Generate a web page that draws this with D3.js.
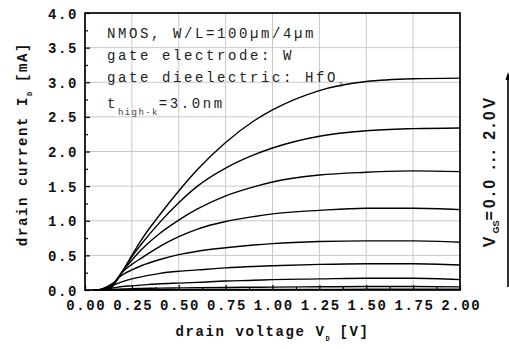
<!DOCTYPE html>
<html><head><meta charset="utf-8">
<script src="https://cdn.jsdelivr.net/npm/d3@7"></script>
<style>
html,body{margin:0;padding:0;background:#fff;}
svg{display:block;}
</style></head>
<body>
<svg id="chart" width="509" height="349"></svg>
<script>
// ---- data ----
const xTicks = [0, 0.25, 0.5, 0.75, 1.0, 1.25, 1.5, 1.75, 2.0];
const yTicks = [0, 0.5, 1.0, 1.5, 2.0, 2.5, 3.0, 3.5, 4.0];
const vdGrid = [0.15, 0.2, 0.25, 0.3, 0.4, 0.5, 0.6, 0.75, 0.9, 1.0, 1.25, 1.5, 1.75, 2.0];
const vgsValues = [2.0, 1.75, 1.5, 1.25, 1.0, 0.75, 0.5, 0.25, 0.0];
const vdOnset = [0.13, 0.12, 0.11, 0.10, 0.08, 0.07, 0.06, 0.05, 0.04];
const id_vgs200 = [0.06, 0.27, 0.50, 0.72, 1.09, 1.43, 1.74, 2.13, 2.44, 2.60, 2.88, 3.01, 3.05, 3.06];
const id_vgs175 = [0.07, 0.27, 0.48, 0.66, 0.98, 1.26, 1.50, 1.76, 1.95, 2.05, 2.22, 2.30, 2.33, 2.34];
const id_vgs150 = [0.08, 0.27, 0.43, 0.58, 0.82, 1.01, 1.17, 1.36, 1.49, 1.56, 1.66, 1.70, 1.72, 1.71];
const id_vgs125 = [0.09, 0.26, 0.37, 0.46, 0.63, 0.77, 0.88, 0.99, 1.06, 1.10, 1.15, 1.18, 1.18, 1.16];
const id_vgs100 = [0.10, 0.22, 0.29, 0.35, 0.44, 0.51, 0.56, 0.61, 0.65, 0.67, 0.70, 0.71, 0.71, 0.69];
const id_vgs075 = [0.07, 0.12, 0.16, 0.19, 0.24, 0.27, 0.29, 0.32, 0.34, 0.35, 0.37, 0.38, 0.38, 0.36];
const id_vgs050 = [0.03, 0.05, 0.06, 0.07, 0.09, 0.10, 0.11, 0.13, 0.14, 0.15, 0.16, 0.17, 0.17, 0.15];
const id_vgs025 = [0.01, 0.015, 0.02, 0.022, 0.027, 0.03, 0.033, 0.037, 0.04, 0.042, 0.046, 0.05, 0.05, 0.045];
const id_vgs000 = [0.0, 0.0, 0.002, 0.003, 0.004, 0.005, 0.006, 0.007, 0.008, 0.008, 0.009, 0.01, 0.01, 0.01];
const seriesId = [id_vgs200, id_vgs175, id_vgs150, id_vgs125, id_vgs100, id_vgs075, id_vgs050, id_vgs025, id_vgs000];

// ---- layout ----
const svg = d3.select("#chart");
const L = 85, R = 460, T = 13, B = 290;
const x = d3.scaleLinear().domain([0, 2]).range([L, R]);
const y = d3.scaleLinear().domain([0, 4]).range([B, T]);
const mono = "'Liberation Mono', 'Courier New', monospace";

// grid
const g = svg.append("g");
g.selectAll("line.vg").data(xTicks.slice(1, -1)).enter().append("line")
  .attr("x1", d => x(d)).attr("x2", d => x(d)).attr("y1", T).attr("y2", B)
  .attr("stroke", "#c8c8c8").attr("stroke-width", 1);
g.selectAll("line.hg").data(yTicks.slice(1, -1)).enter().append("line")
  .attr("y1", d => y(d)).attr("y2", d => y(d)).attr("x1", L).attr("x2", R)
  .attr("stroke", "#c8c8c8").attr("stroke-width", 1);

// curves
const line = d3.line().x(d => x(d[0])).y(d => y(d[1])).curve(d3.curveMonotoneX);
seriesId.forEach((ids, i) => {
  const pts = [[vdOnset[i], 0]].concat(vdGrid.map((v, j) => [v, ids[j]]).filter(p => p[0] > vdOnset[i]));
  svg.append("path").datum(pts).attr("d", line)
    .attr("fill", "none").attr("stroke", "#000").attr("stroke-width", 1.4);
});

// axes (ticks inward)
const xAxis = d3.axisBottom(x).tickValues(xTicks).tickSize(-5).tickFormat(d3.format(".2f"));
const xMinor = d3.axisBottom(x).tickValues(d3.range(0.125, 2, 0.25)).tickSize(-3).tickFormat("");
const yAxis = d3.axisLeft(y).tickValues(yTicks).tickSize(-5).tickFormat(d3.format(".1f"));
const yMinor = d3.axisLeft(y).tickValues(d3.range(0.25, 4, 0.5)).tickSize(-3).tickFormat("");

function styleAxis(sel) {
  sel.select(".domain").remove();
  sel.selectAll(".tick line").attr("stroke", "#000").attr("stroke-width", 1.2);
  sel.selectAll("text").attr("font-family", mono).attr("font-weight", "bold")
    .attr("font-size", 14).attr("letter-spacing", "1.6px").attr("fill", "#111");
}
const gx = svg.append("g").attr("transform", `translate(0,${B})`).call(xAxis).call(styleAxis);
gx.selectAll("text").attr("y", 10).attr("dy", "0.71em").attr("dx", "0.8px");
svg.append("g").attr("transform", `translate(0,${B})`).call(xMinor).call(styleAxis);
const gy = svg.append("g").attr("transform", `translate(${L},0)`).call(yAxis).call(styleAxis);
gy.selectAll("text").attr("x", -7).attr("dy", "0.36em");
svg.append("g").attr("transform", `translate(${L},0)`).call(yMinor).call(styleAxis);

// frame
svg.append("rect").attr("x", L).attr("y", T).attr("width", R - L).attr("height", B - T)
  .attr("fill", "none").attr("stroke", "#000").attr("stroke-width", 1.7);

// axis titles
const xt = svg.append("text").attr("x", (L + R) / 2).attr("y", 336).attr("text-anchor", "middle")
  .attr("font-family", mono).attr("font-weight", "bold").attr("font-size", 14)
  .attr("letter-spacing", "1.6px").attr("fill", "#111");
xt.append("tspan").text("drain voltage V");
xt.append("tspan").attr("font-size", 7).attr("dy", 5).attr("letter-spacing", "0px").text("D");
xt.append("tspan").attr("dy", -5).text(" [V]");

const yt = svg.append("text").attr("transform", "translate(27,144) rotate(-90)").attr("text-anchor", "middle")
  .attr("font-family", mono).attr("font-weight", "bold").attr("font-size", 14)
  .attr("letter-spacing", "1.6px").attr("fill", "#111");
yt.append("tspan").text("drain current I");
yt.append("tspan").attr("font-size", 7).attr("dy", 5).attr("letter-spacing", "0px").text("D");
yt.append("tspan").attr("dy", -5).text(" [mA]");

// annotation
const annX = 107;
const ann = svg.append("g").attr("font-family", mono).attr("font-size", 14)
  .attr("letter-spacing", "2.6px").attr("fill", "#222");
ann.append("text").attr("x", annX).attr("y", 38).text("NMOS, W/L=100µm/4µm");
ann.append("text").attr("x", annX).attr("y", 60).text("gate electrode: W");
const a3 = ann.append("text").attr("x", annX).attr("y", 82);
a3.append("tspan").text("gate dieelectric: HfO");
a3.append("tspan").attr("font-size", 8).attr("dy", 5).attr("fill", "#555").attr("letter-spacing", "1px").text("2");
const a4 = ann.append("text").attr("x", annX).attr("y", 108);
a4.append("tspan").text("t");
a4.append("tspan").attr("font-size", 9).attr("dy", 7).attr("fill", "#444").attr("letter-spacing", "1.4px").text("high-k");
a4.append("tspan").attr("dy", -7).text("=3.0nm");

// right label + arrow
const rl = svg.append("text").attr("transform", "translate(495,171) rotate(-90)").attr("text-anchor", "middle")
  .attr("font-family", "'Liberation Sans', Arial, sans-serif").attr("font-weight", "bold")
  .attr("font-size", 16).attr("letter-spacing", "3px").attr("fill", "#111");
rl.append("tspan").text("V");
rl.append("tspan").attr("font-size", 9).attr("dy", 4).attr("letter-spacing", "0px").text("GS");
rl.append("tspan").attr("dy", -4).text("=0.0 ... 2.0V");

svg.append("line").attr("x1", 508).attr("x2", 508).attr("y1", 287).attr("y2", 78)
  .attr("stroke", "#000").attr("stroke-width", 1.6);
svg.append("path").attr("d", "M508,72 L505.5,80 L510.5,80 Z").attr("fill", "#000");
</script>
</body></html>
